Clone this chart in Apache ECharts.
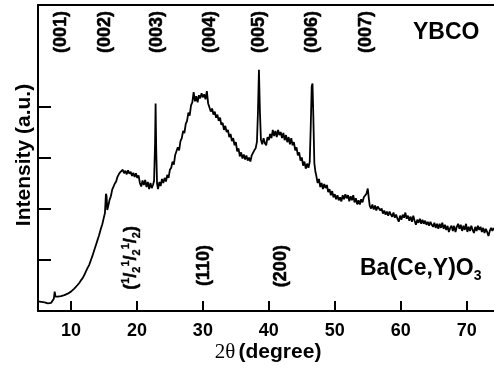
<!DOCTYPE html>
<html><head><meta charset="utf-8">
<script src="https://cdn.jsdelivr.net/npm/echarts@6/dist/echarts.min.js"></script>
<style>html,body{margin:0;padding:0;background:#fff}#c{width:494px;height:368px}</style>
</head><body><div id="c"></div>
<script>
// XRD pattern: [2theta (deg), intensity (a.u.)]
const xrdPattern = [
[5.0,0.19],[5.25,0.17],[5.5,0.18],[5.75,0.15],[6.0,0.17],[6.25,0.16],[6.5,0.15],[6.75,0.18],[7.0,0.16],[7.25,0.19],[7.4,0.24],[7.53,0.38],[7.65,0.28],[7.8,0.25],[8.0,0.28],[8.25,0.26],[8.5,0.29],[8.75,0.27],[9.0,0.31],[9.25,0.30],[9.5,0.34],[9.75,0.33],[10.0,0.38],[10.25,0.40],[10.5,0.44],[10.75,0.47],[11.0,0.51],[11.25,0.55],[11.5,0.60],[11.75,0.64],[12.0,0.70],[12.25,0.77],[12.5,0.84],[12.75,0.90],[13.0,0.99],[13.25,1.08],[13.5,1.18],[13.75,1.28],[14.0,1.38],[14.25,1.48],[14.5,1.60],[14.75,1.70],[15.0,1.84],[15.15,1.92],[15.3,2.30],[15.4,2.25],[15.5,1.98],[15.65,2.06],[15.85,2.18],[16.05,2.25],[16.25,2.38],[16.45,2.44],[16.65,2.50],[16.85,2.54],[17.05,2.63],[17.25,2.68],[17.45,2.72],[17.65,2.70],[17.85,2.77],[18.05,2.70],[18.25,2.75],[18.45,2.68],[18.65,2.76],[18.85,2.69],[19.05,2.73],[19.25,2.65],[19.45,2.71],[19.65,2.63],[19.85,2.70],[20.05,2.61],[20.25,2.66],[20.45,2.51],[20.65,2.44],[20.85,2.56],[21.05,2.47],[21.25,2.57],[21.45,2.43],[21.65,2.53],[21.85,2.39],[22.05,2.51],[22.25,2.41],[22.45,2.48],[22.6,2.55],[22.75,3.3],[22.83,4.07],[22.92,3.2],[23.05,2.5],[23.2,2.39],[23.4,2.53],[23.6,2.45],[23.8,2.59],[24.0,2.51],[24.2,2.61],[24.4,2.54],[24.6,2.67],[24.8,2.61],[25.0,2.77],[25.2,2.81],[25.4,2.93],[25.6,2.87],[25.8,3.06],[26.0,3.09],[26.2,3.21],[26.4,3.15],[26.6,3.33],[26.8,3.39],[27.0,3.53],[27.2,3.49],[27.4,3.67],[27.6,3.73],[27.8,3.89],[28.0,3.83],[28.2,4.03],[28.4,4.09],[28.6,4.29],[28.8,4.11],[29.0,4.21],[29.2,4.09],[29.4,4.23],[29.6,4.17],[29.8,4.27],[30.0,4.19],[30.2,4.25],[30.4,4.15],[30.6,4.31],[30.8,4.07],[31.0,3.99],[31.2,3.91],[31.4,3.97],[31.6,3.85],[31.8,3.91],[32.0,3.79],[32.2,3.85],[32.4,3.73],[32.6,3.79],[32.8,3.65],[33.0,3.69],[33.2,3.55],[33.4,3.63],[33.6,3.51],[33.8,3.55],[34.0,3.41],[34.2,3.47],[34.4,3.33],[34.6,3.39],[34.8,3.25],[35.0,3.31],[35.2,3.13],[35.4,3.19],[35.6,3.03],[35.8,3.11],[36.0,2.99],[36.2,3.07],[36.4,2.97],[36.6,3.05],[36.8,2.95],[37.0,3.01],[37.2,2.93],[37.4,3.05],[37.6,3.07],[37.8,3.15],[38.0,3.19],[38.2,3.32],[38.35,3.9],[38.5,4.73],[38.65,3.9],[38.8,3.36],[39.0,3.27],[39.2,3.39],[39.4,3.29],[39.6,3.25],[39.8,3.41],[40.0,3.35],[40.2,3.47],[40.4,3.39],[40.6,3.55],[40.8,3.43],[41.0,3.53],[41.2,3.41],[41.4,3.55],[41.6,3.45],[41.8,3.51],[42.0,3.39],[42.2,3.49],[42.4,3.35],[42.6,3.45],[42.8,3.31],[43.0,3.41],[43.2,3.27],[43.4,3.39],[43.6,3.25],[43.8,3.31],[44.0,3.15],[44.2,3.21],[44.4,3.05],[44.6,3.11],[44.8,2.95],[45.0,3.01],[45.2,2.85],[45.4,2.93],[45.6,2.79],[45.8,2.89],[46.0,2.81],[46.2,2.92],[46.35,3.6],[46.5,4.40],[46.62,4.46],[46.75,3.8],[46.9,2.9],[47.05,2.74],[47.2,2.65],[47.4,2.51],[47.6,2.59],[47.8,2.43],[48.0,2.51],[48.2,2.39],[48.4,2.49],[48.6,2.41],[48.8,2.47],[49.0,2.33],[49.2,2.39],[49.4,2.27],[49.6,2.35],[49.8,2.23],[50.0,2.29],[50.2,2.19],[50.4,2.27],[50.6,2.17],[50.8,2.23],[51.0,2.15],[51.2,2.27],[51.4,2.19],[51.6,2.29],[51.8,2.21],[52.0,2.27],[52.2,2.15],[52.4,2.25],[52.6,2.17],[52.8,2.27],[53.0,2.13],[53.2,2.21],[53.4,2.09],[53.6,2.17],[53.8,2.09],[54.0,2.19],[54.2,2.13],[54.4,2.23],[54.6,2.20],[54.8,2.30],[55.0,2.40],[55.15,2.22],[55.3,2.06],[55.5,2.01],[55.7,2.09],[55.9,1.99],[56.1,2.07],[56.3,1.97],[56.5,2.05],[56.7,2.07],[56.9,1.97],[57.1,2.01],[57.3,1.91],[57.5,1.97],[57.7,1.89],[57.9,1.95],[58.1,1.87],[58.3,1.95],[58.5,1.89],[58.7,1.85],[58.9,1.93],[59.1,1.83],[59.3,1.89],[59.5,1.81],[59.7,1.75],[59.9,1.87],[60.1,1.79],[60.3,1.89],[60.5,1.83],[60.7,1.93],[60.9,1.81],[61.1,1.87],[61.3,1.77],[61.5,1.85],[61.7,1.75],[61.9,1.87],[62.1,1.77],[62.3,1.69],[62.5,1.79],[62.7,1.73],[62.9,1.81],[63.1,1.71],[63.3,1.79],[63.5,1.71],[63.7,1.77],[63.9,1.69],[64.1,1.75],[64.3,1.67],[64.5,1.75],[64.7,1.69],[64.9,1.65],[65.1,1.73],[65.3,1.63],[65.5,1.71],[65.7,1.61],[65.9,1.71],[66.1,1.63],[66.3,1.73],[66.5,1.61],[66.7,1.69],[66.9,1.59],[67.1,1.67],[67.3,1.55],[67.5,1.63],[67.7,1.67],[67.9,1.57],[68.1,1.67],[68.3,1.55],[68.5,1.65],[68.7,1.71],[68.9,1.61],[69.1,1.69],[69.3,1.57],[69.5,1.67],[69.7,1.59],[69.9,1.71],[70.1,1.55],[70.3,1.65],[70.5,1.57],[70.7,1.67],[70.9,1.59],[71.1,1.53],[71.3,1.65],[71.5,1.57],[71.7,1.67],[71.9,1.59],[72.1,1.65],[72.3,1.55],[72.5,1.63],[72.7,1.53],[72.9,1.61],[73.1,1.55],[73.3,1.47],[73.5,1.57],[73.7,1.63],[73.9,1.57],[74.1,1.63]
];
// Peak index labels
const ybcoLabels = ['(001)','(002)','(003)','(004)','(005)','(006)','(007)'];
const ybcoPos = [8.5, 15.2, 23.0, 31.1, 38.5, 46.6, 54.8];
const ybcoLabelY = 5.47;
const bcyLabels = ['{m|(}{p|1}{m|/}{q|2}{p|1}{m|/}{q|2}{p|1}{m|/}{q|2}{m|)}', '{m|(110)}', '{m|(200)}'];
const bcyPos = [19.1, 30.2, 41.9];
const bcyLabelY = [1.04, 0.89, 0.88];
const xTicks = [10, 20, 30, 40, 50, 60, 70];
const yTicks = [1, 2, 3, 4];

const SANS = "'Liberation Sans', Arial, sans-serif";
const BOLD18 = "bold 18px 'Liberation Sans', Arial, sans-serif";
const richLbl = {
  m: { font: BOLD18, fill: '#000', stroke: '#000', lineWidth: 0.5, lineHeight: 22 },
  p: { font: "bold 11px 'Liberation Sans', Arial, sans-serif", fill: '#000', stroke: '#000', lineWidth: 0.3, verticalAlign: 'top', lineHeight: 11 },
  q: { font: "bold 11px 'Liberation Sans', Arial, sans-serif", fill: '#000', stroke: '#000', lineWidth: 0.3, verticalAlign: 'bottom', lineHeight: 11 }
};

const chart = echarts.init(document.getElementById('c'));
chart.setOption({
  animation: false,
  grid: { left: 38, right: 0, top: 5, bottom: 57 },
  xAxis: [{
    type: 'value', min: 5, max: 74.14, position: 'bottom',
    axisLine: { show: true, onZero: false, lineStyle: { color: '#000', width: 2 } },
    axisTick: { show: true, inside: true, length: 10, customValues: xTicks, lineStyle: { color: '#000', width: 2 } },
    axisLabel: { customValues: xTicks, color: '#000', fontSize: 18, fontWeight: 'bold', fontFamily: SANS, margin: 11 },
    splitLine: { show: false }
  }, {
    type: 'value', min: 5, max: 74.14, position: 'top',
    axisLine: { show: true, onZero: false, lineStyle: { color: '#000', width: 2 } },
    axisTick: { show: false }, axisLabel: { show: false }, splitLine: { show: false }
  }],
  yAxis: {
    type: 'value', min: 0, max: 6,
    axisLine: { show: true, onZero: false, lineStyle: { color: '#000', width: 2 } },
    axisTick: { show: true, inside: true, length: 13, customValues: yTicks, lineStyle: { color: '#000', width: 2 } },
    axisLabel: { show: false }, splitLine: { show: false }
  },
  series: [{
    type: 'line', data: xrdPattern, symbol: 'none', showSymbol: false,
    lineStyle: { color: '#000', width: 1.8 }, silent: true, clip: true
  }]
});

// Position peak labels through the chart's own scales
const graphics = [];
function addRotLabel(text, x, y) {
  const p = chart.convertToPixel({ gridIndex: 0 }, [x, y]);
  graphics.push({
    type: 'text', x: p[0], y: p[1], rotation: Math.PI / 2, silent: true,
    style: { text: text, rich: richLbl, textAlign: 'center', textVerticalAlign: 'middle' }
  });
}
ybcoLabels.forEach((t, i) => addRotLabel('{m|' + t + '}', ybcoPos[i], ybcoLabelY));
bcyLabels.forEach((t, i) => addRotLabel(t, bcyPos[i], bcyLabelY[i]));

graphics.push({
  type: 'text', x: 413, y: 33,
  style: { text: 'YBCO', fill: '#000', font: "bold 23px 'Liberation Sans', Arial", textAlign: 'left', textVerticalAlign: 'middle' }
}, {
  type: 'text', x: 360, y: 269,
  style: {
    text: '{m|Ba(Ce,Y)O}{s|3}', textAlign: 'left', textVerticalAlign: 'middle',
    rich: {
      m: { font: "bold 23px 'Liberation Sans', Arial", fill: '#000', lineHeight: 28 },
      s: { font: "bold 14px 'Liberation Sans', Arial", fill: '#000', verticalAlign: 'bottom', lineHeight: 14 }
    }
  }
}, {
  type: 'text', x: 268, y: 352,
  style: {
    text: '{a|2θ} {b|(degree)}', textAlign: 'center', textVerticalAlign: 'middle',
    rich: {
      a: { font: "21px 'Liberation Serif', 'Times New Roman', serif", fill: '#000' },
      b: { font: "bold 21px 'Liberation Sans', Arial", fill: '#000' }
    }
  }
}, {
  type: 'text', x: 24.5, y: 155, rotation: Math.PI / 2,
  style: { text: 'Intensity (a.u.)', fill: '#000', font: "bold 21px 'Liberation Sans', Arial", textAlign: 'center', textVerticalAlign: 'middle' }
});
chart.setOption({ graphic: graphics });
</script></body></html>
